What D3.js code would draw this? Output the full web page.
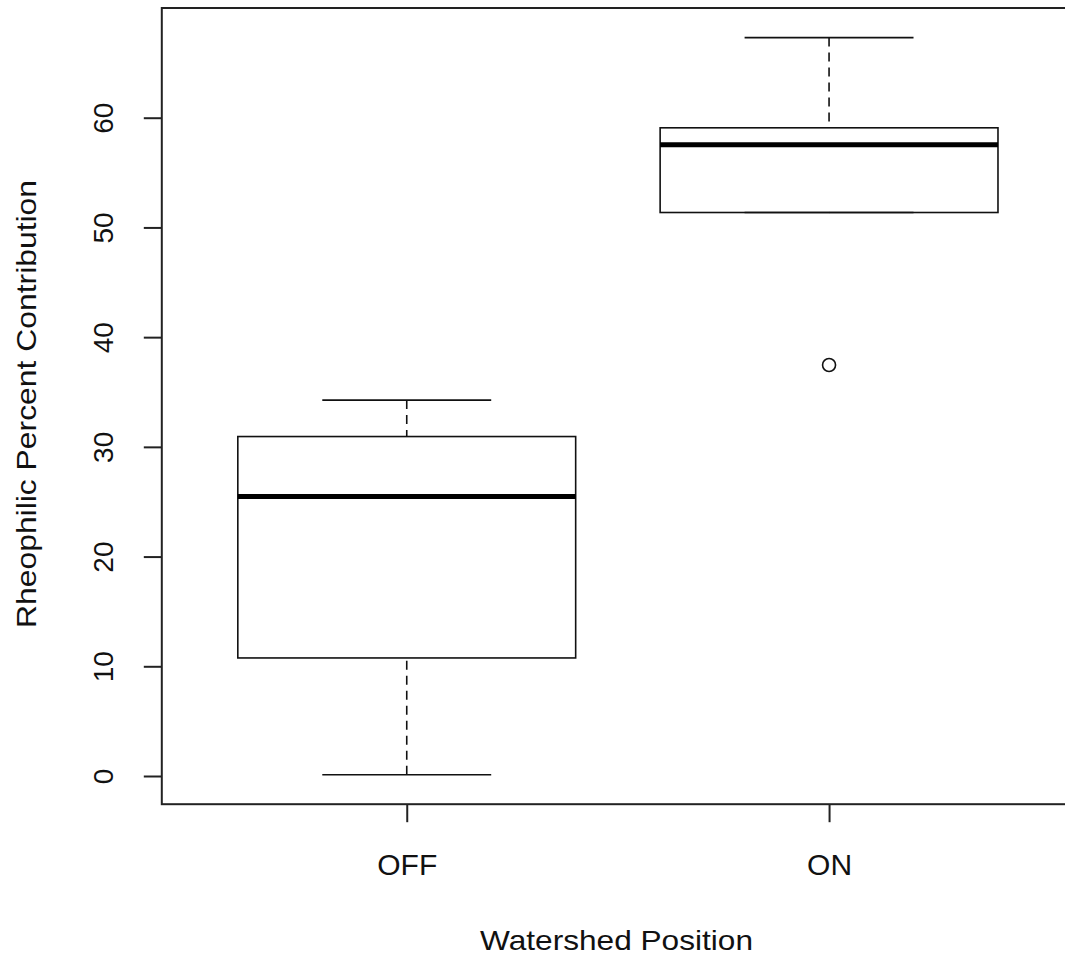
<!DOCTYPE html>
<html>
<head>
<meta charset="utf-8">
<script src="https://cdn.jsdelivr.net/npm/d3@7"></script>
<style>
  html, body { margin: 0; padding: 0; background: #fff; }
  svg { display: block; }
  text { font-family: "Liberation Sans", Arial, sans-serif; fill: #111; }
</style>
</head>
<body>
<div id="chart"></div>
<script>
// Boxplot summary per watershed position
const categories = ["OFF", "ON"];
const whiskerLow  = [0.12, 51.36];
const q1          = [10.76, 51.36];
const medians     = [25.47, 57.54];
const q3          = [30.94, 59.08];
const whiskerHigh = [34.26, 67.30];
const outliers    = [[], [37.46]];
const yTicks      = [0, 10, 20, 30, 40, 50, 60];

const W = 1065, H = 960;
const svg = d3.select("#chart").append("svg").attr("width", W).attr("height", H);

// plot region (R-style: axes extend 4% beyond data range)
const plotL = 161.8, plotR = 1074, plotT = 8, plotB = 804.2;

const x = d3.scaleLinear().domain([0.42, 2.58]).range([plotL, plotR]);
const y = d3.scaleLinear().domain([-2.57, 70.0]).range([plotB, plotT]);

const boxHalf = 0.4, capHalf = 0.2;

const g = svg.append("g");

categories.forEach((c, i) => {
  const cx = x(i + 1);
  const stroke = "#111";
  // whiskers (dashed)
  g.append("line").attr("x1", cx).attr("x2", cx)
    .attr("y1", y(whiskerLow[i])).attr("y2", y(q1[i]))
    .attr("stroke", stroke).attr("stroke-width", 1.6).attr("stroke-dasharray", "9,6");
  g.append("line").attr("x1", cx).attr("x2", cx)
    .attr("y1", y(whiskerHigh[i])).attr("y2", y(q3[i]))
    .attr("stroke", stroke).attr("stroke-width", 1.6).attr("stroke-dasharray", "9,6");
  // caps
  [whiskerLow[i], whiskerHigh[i]].forEach(v => {
    g.append("line")
      .attr("x1", x(i + 1 - capHalf)).attr("x2", x(i + 1 + capHalf))
      .attr("y1", y(v)).attr("y2", y(v))
      .attr("stroke", stroke).attr("stroke-width", 1.6);
  });
  // box
  g.append("rect")
    .attr("x", x(i + 1 - boxHalf)).attr("width", x(i + 1 + boxHalf) - x(i + 1 - boxHalf))
    .attr("y", y(q3[i])).attr("height", y(q1[i]) - y(q3[i]))
    .attr("fill", "none").attr("stroke", stroke).attr("stroke-width", 1.6);
  // median
  g.append("line")
    .attr("x1", x(i + 1 - boxHalf)).attr("x2", x(i + 1 + boxHalf))
    .attr("y1", y(medians[i])).attr("y2", y(medians[i]))
    .attr("stroke", "#000").attr("stroke-width", 5);
  // outliers
  outliers[i].forEach(v => {
    g.append("circle").attr("cx", cx).attr("cy", y(v)).attr("r", 6.5)
      .attr("fill", "none").attr("stroke", stroke).attr("stroke-width", 1.6);
  });
});

// frame
svg.append("rect")
  .attr("x", plotL).attr("y", plotT).attr("width", plotR - plotL).attr("height", plotB - plotT)
  .attr("fill", "none").attr("stroke", "#222").attr("stroke-width", 2);

// y axis
const yAxis = svg.append("g").attr("transform", `translate(${plotL},0)`)
  .call(d3.axisLeft(y).tickValues(yTicks).tickSize(18).tickPadding(0).tickFormat(d3.format("d")));
yAxis.select(".domain").remove();
yAxis.selectAll(".tick line").attr("stroke", "#222").attr("stroke-width", 2);
yAxis.selectAll(".tick text")
  .attr("font-size", 28)
  .attr("text-anchor", "middle")
  .attr("x", 0).attr("y", 0)
  .attr("dy", null)
  .attr("transform", "translate(-48.5,0) rotate(-90)");

// x axis
const xAxis = svg.append("g").attr("transform", `translate(0,${plotB})`)
  .call(d3.axisBottom(x).tickValues([1, 2]).tickSize(18).tickPadding(0)
    .tickFormat(d => categories[d - 1]));
xAxis.select(".domain").remove();
xAxis.selectAll(".tick line").attr("stroke", "#222").attr("stroke-width", 2);
xAxis.selectAll(".tick text").attr("font-size", 30).attr("dy", null).attr("y", 71);

// axis titles
svg.append("text").attr("x", 616.5).attr("y", 950)
  .attr("text-anchor", "middle").attr("font-size", 28)
  .attr("textLength", 273).attr("lengthAdjust", "spacingAndGlyphs")
  .text("Watershed Position");
svg.append("text")
  .attr("transform", `translate(36,404) rotate(-90)`)
  .attr("text-anchor", "middle").attr("font-size", 28)
  .attr("textLength", 448).attr("lengthAdjust", "spacingAndGlyphs")
  .text("Rheophilic Percent Contribution");
</script>
</body>
</html>
